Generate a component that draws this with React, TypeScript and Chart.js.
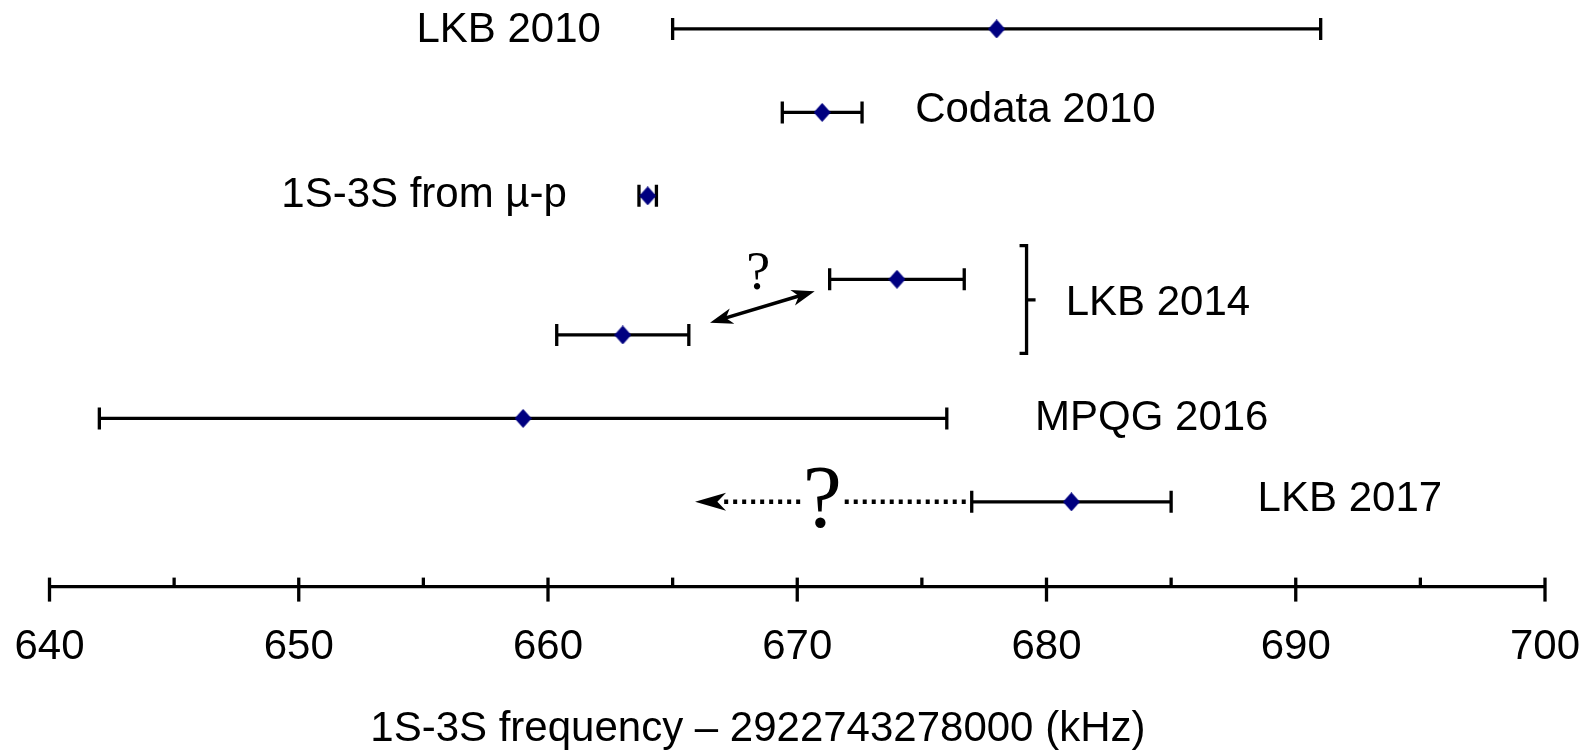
import React, { useEffect, useRef } from 'react';
import { Chart, registerables } from 'chart.js';

Chart.register(...registerables);

// ---- data ----
const seriesNames = ['LKB 2010', 'Codata 2010', '1S-3S from µ-p', 'LKB 2014', 'LKB 2014', 'MPQG 2016', 'LKB 2017'];
const centers = [678, 671, 664, 674, 663, 659, 681];
const uncertainties = [13, 1.6, 0.35, 2.7, 2.65, 17, 4];
const rowPositions = [0, 1, 2, 3, 3.667, 4.667, 5.667];
const xMin = 640;
const xMax = 700;
const xStep = 5;
const xLabelStep = 10;
const xAxisTitle = '1S-3S frequency – 2922743278000 (kHz)';
const groupLabels = ['LKB 2010', 'Codata 2010', '1S-3S from µ-p', 'LKB 2014', 'MPQG 2016', 'LKB 2017'];

const SANS = "'Liberation Sans', Arial, sans-serif";
const SERIF = "'Liberation Serif', 'Times New Roman', serif";

// label anchors (left edge x value, y row value)
const labelAnchors = [
  [654.72, 0.02],
  [674.73, 0.977],
  [649.3, 1.998],
  [680.77, 3.295],
  [679.54, 4.672],
  [688.47, 5.636],
];

function makeDiamond(): HTMLCanvasElement {
  const c = document.createElement('canvas');
  c.width = 17;
  c.height = 19;
  const g = c.getContext('2d')!;
  g.fillStyle = '#000080';
  g.beginPath();
  g.moveTo(8.5, 0);
  g.lineTo(17, 9.5);
  g.lineTo(8.5, 19);
  g.lineTo(0, 9.5);
  g.closePath();
  g.fill();
  return c;
}

function arrowHead(ctx: CanvasRenderingContext2D, tx: number, ty: number, angle: number, len: number, halfW: number) {
  ctx.save();
  ctx.translate(tx, ty);
  ctx.rotate(angle);
  ctx.beginPath();
  ctx.moveTo(0, 0);
  ctx.lineTo(-len, -halfW);
  ctx.lineTo(-len * 0.72, 0);
  ctx.lineTo(-len, halfW);
  ctx.closePath();
  ctx.fill();
  ctx.restore();
}

const errorBarPlugin = {
  id: 'errorBars',
  beforeDatasetsDraw(chart: any) {
    const { ctx, scales } = chart;
    const x = scales.x;
    const y = scales.y;
    ctx.save();
    ctx.strokeStyle = '#000';
    ctx.lineWidth = 3.3;
    ctx.lineCap = 'butt';
    centers.forEach((c, i) => {
      const py = y.getPixelForValue(rowPositions[i]);
      const x1 = x.getPixelForValue(c - uncertainties[i]);
      const x2 = x.getPixelForValue(c + uncertainties[i]);
      ctx.beginPath();
      ctx.moveTo(x1, py);
      ctx.lineTo(x2, py);
      ctx.moveTo(x1, py - 11);
      ctx.lineTo(x1, py + 11);
      ctx.moveTo(x2, py - 11);
      ctx.lineTo(x2, py + 11);
      ctx.stroke();
    });
    ctx.restore();
  },
  afterDraw(chart: any) {
    const { ctx, scales, chartArea } = chart;
    const x = scales.x;
    const y = scales.y;
    ctx.save();
    // axis tick marks
    ctx.strokeStyle = '#000';
    ctx.fillStyle = '#000';
    ctx.lineWidth = 3.3;
    const B = chartArea.bottom;
    for (let v = xMin; v <= xMax; v += xStep) {
      const px = x.getPixelForValue(v);
      ctx.beginPath();
      const major = v % xLabelStep === 0;
      ctx.moveTo(px, B - 9);
      ctx.lineTo(px, major ? B + 15 : B);
      ctx.stroke();
    }

    // axis title
    ctx.font = `42px ${SANS}`;
    ctx.textAlign = 'center';
    ctx.textBaseline = 'middle';
    ctx.fillText(xAxisTitle, x.getPixelForValue(668.42), B + 143);

    // text labels
    ctx.textAlign = 'left';
    groupLabels.forEach((t, i) => {
      const [ax, ay] = labelAnchors[i];
      ctx.fillText(t, x.getPixelForValue(ax), y.getPixelForValue(ay));
    });

    // bracket for LKB 2014
    const bx = x.getPixelForValue(679.2);
    const bt = y.getPixelForValue(2.596);
    const bb = y.getPixelForValue(3.888);
    const bm = y.getPixelForValue(3.246);
    ctx.lineWidth = 3.3;
    ctx.beginPath();
    ctx.moveTo(bx - 7, bt);
    ctx.lineTo(bx, bt);
    ctx.lineTo(bx, bb);
    ctx.lineTo(bx - 7, bb);
    ctx.moveTo(bx, bm);
    ctx.lineTo(bx + 9, bm);
    ctx.stroke();

    // double arrow between LKB 2014 points
    const ax1 = x.getPixelForValue(666.5);
    const ay1 = y.getPixelForValue(3.52);
    const ax2 = x.getPixelForValue(670.7);
    const ay2 = y.getPixelForValue(3.142);
    const ang = Math.atan2(ay2 - ay1, ax2 - ax1);
    ctx.lineWidth = 3.6;
    ctx.beginPath();
    ctx.moveTo(ax1 + Math.cos(ang) * 14, ay1 + Math.sin(ang) * 14);
    ctx.lineTo(ax2 - Math.cos(ang) * 14, ay2 - Math.sin(ang) * 14);
    ctx.stroke();
    arrowHead(ctx, ax2, ay2, ang, 23, 8);
    arrowHead(ctx, ax1, ay1, ang + Math.PI, 23, 8);

    // small question mark
    ctx.font = `54px ${SERIF}`;
    ctx.textAlign = 'center';
    ctx.textBaseline = 'alphabetic';
    ctx.fillText('?', x.getPixelForValue(668.43), y.getPixelForValue(3) + 9.5);

    // dotted arrow for LKB 2017
    const ry = y.getPixelForValue(rowPositions[6]);
    const capX = x.getPixelForValue(centers[6] - uncertainties[6]);
    const tipX = x.getPixelForValue(665.9);
    const qX = x.getPixelForValue(671.0);
    ctx.lineWidth = 4.5;
    ctx.setLineDash([4, 5]);
    ctx.beginPath();
    ctx.moveTo(capX - 6, ry);
    ctx.lineTo(qX + 22, ry);
    ctx.moveTo(qX - 22, ry);
    ctx.lineTo(tipX + 28, ry);
    ctx.stroke();
    ctx.setLineDash([]);
    arrowHead(ctx, tipX, ry, Math.PI, 31, 9);

    // big question mark
    ctx.font = `88px ${SERIF}`;
    ctx.fillText('?', qX, ry + 24);

    ctx.restore();
  },
};

export default function App() {
  const canvasRef = useRef<HTMLCanvasElement | null>(null);

  useEffect(() => {
    document.body.style.margin = '0';
    const canvas = canvasRef.current;
    if (!canvas) return;
    const diamond = makeDiamond();
    const chart = new Chart(canvas, {
      type: 'scatter',
      data: {
        datasets: [
          {
            label: 'measurements',
            data: centers.map((c, i) => ({ x: c, y: rowPositions[i] })),
            pointStyle: diamond as any,
            pointRadius: 9,
            pointHoverRadius: 9,
            backgroundColor: '#000080',
            borderColor: '#000080',
            borderWidth: 0,
          },
        ],
      },
      options: {
        animation: false,
        responsive: false,
        devicePixelRatio: 1,
        layout: { autoPadding: false, padding: { left: 49.5, right: 48, top: 0, bottom: 43 } },
        plugins: {
          legend: { display: false },
          tooltip: { enabled: false },
          title: { display: false },
        },
        scales: {
          x: {
            type: 'linear',
            min: xMin,
            max: xMax,
            afterFit: (scale: any) => {
              scale.paddingLeft = 0;
              scale.paddingRight = 0;
            },
            grid: { drawOnChartArea: false, drawTicks: false, display: true },
            border: { display: true, color: '#000', width: 3.3 },
            ticks: {
              stepSize: xStep,
              autoSkip: false,
              maxRotation: 0,
              padding: 35.5,
              color: '#000',
              font: { family: SANS, size: 42, lineHeight: 1.2 },
              callback: (v: any) => (Number(v) % xLabelStep === 0 ? String(v) : ''),
            },
            title: { display: false },
          },
          y: {
            type: 'linear',
            display: false,
            reverse: true,
            min: -0.347,
            max: 6.683,
          },
        },
      },
      plugins: [errorBarPlugin],
    });
    return () => chart.destroy();
  }, []);

  return (
    <div style={{ width: 1593, height: 751 }}>
      <canvas ref={canvasRef} width={1593} height={751} style={{ display: 'block' }} />
    </div>
  );
}
